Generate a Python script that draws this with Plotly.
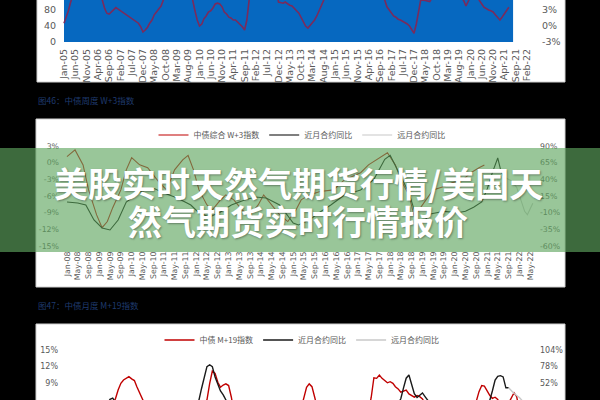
import pandas as pd
import plotly.graph_objects as go

W, H = 600, 400


def px(x):
    return x / W


def py(y):
    return 1 - y / H


# ---------------- data ----------------
# Top chart (weekly index, months counted from Jan-2005)
top_start = "2005-01-01"
top_month_idx = [0, 2, 3, 4, 6, 10, 14, 16, 17, 18, 19, 20, 21, 22, 23, 24, 25, 27, 29, 31, 33, 34, 35, 36,
                 37, 38, 39, 40, 41, 42, 43, 44, 46, 50, 54, 56, 57, 58, 59, 60, 61, 62, 63, 64, 65, 66, 67,
                 68, 69, 70, 71, 72, 73, 74, 75, 76, 77, 78, 79, 80, 81, 82, 84, 90, 94, 95, 96, 97, 98, 99,
                 100, 101, 102, 103, 104, 105, 106, 107, 108, 109, 110, 111, 112, 113, 114, 115, 117, 125,
                 135, 140, 142, 143, 144, 145, 146, 147, 148, 149, 150, 151, 152, 153, 154, 155, 156, 157,
                 158, 160, 162, 164, 168, 175, 177, 178, 179, 181, 183, 184, 185, 186, 187, 188, 189, 190,
                 191, 192, 193, 194, 195, 196, 197]
top_values = [47, 78, 100, 125, 150, 160, 140, 115, 105, 85, 72, 70, 75, 80, 86, 82, 78, 70, 62, 55, 47, 38,
              25, 30, 37, 47, 55, 68, 75, 82, 90, 105, 130, 150, 140, 120, 105, 78, 55, 40, 45, 58, 65, 75,
              78, 85, 95, 97, 95, 88, 75, 70, 62, 60, 55, 55, 50, 45, 38, 30, 55, 105, 140, 160, 130, 100,
              98, 97, 100, 95, 92, 90, 85, 78, 72, 62, 50, 40, 35, 42, 47, 55, 65, 80, 95, 105, 130, 160,
              150, 120, 105, 88, 80, 72, 65, 62, 57, 55, 52, 50, 45, 40, 30, 22, 45, 80, 105, 104, 101,
              120, 150, 115, 104, 90, 104, 125, 112, 105, 95, 87, 83, 80, 78, 75, 68, 60, 55, 62, 70, 80, 87]
top_blue_end = "2021-07-28"
top_left_ticks = [0, 40, 80, 120]
top_right_ticks = [-3, 0, 3]

# Panel 2 (W+3), months counted from Jan-2008
p2_start = "2008-01-01"
p2_red_idx = [0, 3, 6, 8, 11, 13, 15, 17, 20, 22, 24, 27, 30, 32, 34, 37, 40, 43, 45, 47, 49, 52, 54, 57,
              59, 62, 65, 68, 71, 73, 76, 79, 82, 85, 87, 90, 94, 99, 103, 109, 112, 116, 119, 122, 124,
              127, 129, 132, 136, 140, 143, 147, 150, 153, 155]
p2_red_vals = [1.1, 2.3, -0.4, -4.9, -9.4, -11.7, -10.6, -8.1, -4.9, -1.3, 0.9, -0.4, -0.9, -2.2, -3.4,
               -4.9, -1.3, 0.5, 1.3, -1.3, -4.9, -7.6, -8.5, -6.7, -5.8, -6.7, -8.5, -9.4, -7.6, -5.8,
               -7.6, -9.4, -10.6, -8.5, -6.7, -5.8, -5.2, -4.9, -3.1, -1.8, -0.4, 0.9, 1.8, -0.4, -3.1,
               -5.8, -9.7, -7.6, -4.9, -4.3, -3.6, -3.1, -1.8, -0.9, -0.4]
p2_near_idx = [0, 4, 7, 10, 13, 16, 19, 22, 27, 32, 36, 41, 46, 49, 53, 57, 61, 66, 70, 74, 79, 84, 86, 90,
               94, 98, 103, 109, 114, 118, 120, 122, 125, 127, 130, 132, 135, 140, 145, 148, 151, 154, 156,
               158, 160, 161, 162, 163]
p2_near_vals = [6, 4.5, 1.5, -21, -33, -36, -21, 6, 21, 27, 19.5, 12, 1.5, -10.5, -16.5, -9, 1.5, 9, 13.5,
                12, 1.5, -25.5, -28.5, -21, -9, 1.5, 16.5, 24, 40, 70, 76, 60, 35, 20, -20, -25, -12, -8,
                -10, -8, -2, 6, 25, 50, 72, 55, 45, 42]
p2_far_idx = [163, 165, 167, 169, 170, 171, 172, 173]
p2_far_vals = [42, 38, 28, 5, -8, -13, -5, 4]
p2_left_ticks = [-15, -12, -9, -6, -3, 0, 3]
p2_right_ticks = [-60, -35, -10, 15, 40, 65, 90]

# Panel 3 (M+19), months counted from Jan-2008
p3_red_idx = [0, 6, 12, 15, 17, 18, 19, 20, 21, 22, 23, 24, 25, 26, 27, 28, 29, 31, 38, 45, 50, 51, 52, 53,
              54, 55, 56, 57, 58, 59, 60, 61, 62, 70, 80, 86, 87, 88, 89, 90, 91, 92, 93, 100, 108, 112,
              113, 114, 115, 116, 117, 118, 119, 120, 121, 122, 123, 124, 125, 126, 127, 128, 129, 130,
              131, 132, 133, 134, 140, 146, 150, 152, 153, 154, 155, 156, 157, 158, 159, 160, 161, 163,
              165, 166, 167, 168]
p3_red_vals = [4, 3, 2.5, 3, 5, 6.2, 7.8, 9.0, 9.6, 9.9, 10.2, 9.8, 9.5, 8.4, 7.4, 6.2, 5.0, 3, 2, 3, 3.5,
               4.5, 6.0, 9.0, 11.2, 10.8, 9.2, 8.3, 8.7, 8.9, 8.6, 6.5, 4, 2, 3, 3.5, 4.5, 6.5, 8.3, 8.9,
               8.4, 6.5, 4.5, 2.5, 3.5, 4, 6.5, 10.0, 9.9, 10.5, 9.9, 9.4, 9.1, 9.3, 9.0, 8.4, 8.0, 7.4,
               7.6, 7.8, 7.1, 6.8, 6.5, 6.8, 6.6, 6.2, 5.5, 4.5, 3, 2.5, 4, 5.8, 7.5, 8.6, 8.5, 7.6, 6.8,
               6.3, 6.5, 6.1, 5.0, 4.5, 6.4, 7.3, 6.6, 4]
p3_near_idx = [0, 10, 14, 15, 16, 17, 18, 20, 30, 40, 47, 49, 50, 51, 52, 53, 54, 55, 56, 57, 58, 59, 60,
               70, 80, 90, 100, 110, 120, 123, 124, 125, 126, 127, 128, 129, 130, 131, 132, 133, 134, 135,
               145, 150, 156, 157, 158, 159, 160, 161, 162, 163, 164]
p3_near_vals = [10, 12, 15, 20, 27, 29, 22, 10, 0, 5, 15, 26, 44, 62, 78, 81, 78, 62, 50, 40, 34, 26, 18,
                5, 10, 0, 8, 12, 15, 20, 28, 45, 60, 65, 50, 36, 30, 34, 37, 31, 26, 20, 10, 12, 20, 26,
                40, 57, 63, 64, 62, 45, 45]
p3_far_idx = [164, 165, 166, 167, 168, 169]
p3_far_vals = [45, 40, 36, 33, 30, 25]
p3_left_ticks = [6, 9, 12, 15]
p3_right_ticks = [26, 52, 78, 104]

legend2_names = ["中债综合 W+3指数", "近月合约同比", "远月合约同比"]
legend3_names = ["中债 M+19指数", "近月合约同比", "远月合约同比"]
title2 = "图46：中债周度 W+3指数"
title3 = "图47：中债月度 M+19指数"
banner_lines = ["美股实时天然气期货行情/美国天", "然气期货实时行情报价"]


def to_dates(start, idx):
    base = pd.Timestamp(start)
    return [base + pd.DateOffset(months=int(m)) for m in idx]


def pct(vals):
    return [f"{v}%" for v in vals]


TICK_FONT = "DejaVu Sans"
CJK = "Noto Sans CJK SC"
GREY = "#595959"

fig = go.Figure()

# top chart line
fig.add_trace(go.Scatter(x=to_dates(top_start, top_month_idx), y=top_values, mode="lines",
                         line=dict(color="#7a2b5c", width=1.6), xaxis="x", yaxis="y",
                         showlegend=False, hoverinfo="skip"))
# empty trace to register the right axis of the top chart
fig.add_trace(go.Scatter(x=[pd.Timestamp(top_start)], y=[None], mode="lines", xaxis="x", yaxis="y2",
                         showlegend=False, hoverinfo="skip"))

# panel 2
fig.add_trace(go.Scatter(x=to_dates(p2_start, p2_red_idx), y=p2_red_vals, mode="lines",
                         name=legend2_names[0], line=dict(color="#c00000", width=1.1),
                         xaxis="x2", yaxis="y3", legend="legend"))
fig.add_trace(go.Scatter(x=to_dates(p2_start, p2_near_idx), y=p2_near_vals, mode="lines",
                         name=legend2_names[1], line=dict(color="#000000", width=1.1),
                         xaxis="x2", yaxis="y4", legend="legend"))
fig.add_trace(go.Scatter(x=to_dates(p2_start, p2_far_idx), y=p2_far_vals, mode="lines",
                         name=legend2_names[2], line=dict(color="#c8c8c8", width=1.1),
                         xaxis="x2", yaxis="y4", legend="legend"))

# panel 3
fig.add_trace(go.Scatter(x=to_dates(p2_start, p3_red_idx), y=p3_red_vals, mode="lines",
                         name=legend3_names[0], line=dict(color="#c00000", width=1.4),
                         xaxis="x3", yaxis="y5", legend="legend2"))
fig.add_trace(go.Scatter(x=to_dates(p2_start, p3_near_idx), y=p3_near_vals, mode="lines",
                         name=legend3_names[1], line=dict(color="#1a1a1a", width=1.4),
                         xaxis="x3", yaxis="y6", legend="legend2"))
fig.add_trace(go.Scatter(x=to_dates(p2_start, p3_far_idx), y=p3_far_vals, mode="lines",
                         name=legend3_names[2], line=dict(color="#c8c8c8", width=1.4),
                         xaxis="x3", yaxis="y6", legend="legend2"))

common_axis = dict(showgrid=False, zeroline=False, showline=False, ticks="", automargin=False)

fig.update_layout(
    width=W, height=H, template="none",
    margin=dict(l=0, r=0, t=0, b=0),
    paper_bgcolor="#000000", plot_bgcolor="rgba(0,0,0,0)",
    hovermode=False,
    xaxis=dict(common_axis, domain=[px(62), px(532)], anchor="y", type="date",
               range=["2004-12-05", "2022-04-09"], tick0="2005-01-01", dtick="M5",
               tickformat="%b-%y", tickangle=-90, ticklabelstandoff=4,
               tickfont=dict(family=TICK_FONT, size=9.5, color=GREY)),
    yaxis=dict(common_axis, domain=[py(42), 1], anchor="x", range=[0, 105],
               tickmode="array", tickvals=top_left_ticks, ticktext=[str(v) for v in top_left_ticks],
               ticklabelstandoff=5, tickfont=dict(family=TICK_FONT, size=9.5, color=GREY)),
    yaxis2=dict(common_axis, overlaying="y", side="right", anchor="x", range=[-3, 4.875],
                tickmode="array", tickvals=top_right_ticks, ticktext=pct(top_right_ticks),
                ticklabelstandoff=9, tickfont=dict(family=TICK_FONT, size=9.5, color=GREY)),
    xaxis2=dict(common_axis, domain=[px(63), px(535)], anchor="y3", type="date",
                range=["2007-11-17", "2022-06-26"], tick0="2008-01-01", dtick="M4",
                tickformat="%b-%y", tickangle=-90, ticklabelstandoff=3,
                tickfont=dict(family=TICK_FONT, size=7.8, color=GREY)),
    yaxis3=dict(common_axis, domain=[py(246), py(146)], anchor="x2", range=[-15, 3],
                tickmode="array", tickvals=p2_left_ticks, ticktext=pct(p2_left_ticks),
                ticklabelstandoff=3, tickfont=dict(family=TICK_FONT, size=7.8, color=GREY)),
    yaxis4=dict(common_axis, overlaying="y3", side="right", anchor="x2", range=[-60, 90],
                tickmode="array", tickvals=p2_right_ticks, ticktext=pct(p2_right_ticks),
                ticklabelstandoff=4, tickfont=dict(family=TICK_FONT, size=7.8, color=GREY)),
    xaxis3=dict(common_axis, domain=[px(63), px(535)], anchor="y5", type="date",
                range=["2007-11-17", "2022-06-26"], showticklabels=False),
    yaxis5=dict(common_axis, domain=[0, py(350)], anchor="x3", range=[6, 15],
                tickmode="array", tickvals=p3_left_ticks, ticktext=pct(p3_left_ticks),
                ticklabelstandoff=4, tickfont=dict(family=TICK_FONT, size=8, color=GREY)),
    yaxis6=dict(common_axis, overlaying="y5", side="right", anchor="x3", range=[26, 104],
                tickmode="array", tickvals=p3_right_ticks, ticktext=pct(p3_right_ticks),
                ticklabelstandoff=4, tickfont=dict(family=TICK_FONT, size=8, color=GREY)),
    legend=dict(orientation="h", x=px(302), y=py(135), xanchor="center", yanchor="middle",
                bgcolor="rgba(0,0,0,0)", font=dict(family=CJK, size=8, color=GREY),
                itemwidth=30, itemclick=False),
    legend2=dict(orientation="h", x=px(302), y=py(340), xanchor="center", yanchor="middle",
                 bgcolor="rgba(0,0,0,0)", font=dict(family=CJK, size=8, color=GREY),
                 itemwidth=30, itemclick=False),
)

shapes = [
    # white panels
    dict(type="rect", xref="paper", yref="paper", x0=px(37), x1=px(565), y0=py(82), y1=1.05,
         fillcolor="#ffffff", line=dict(color="#d0d0d0", width=1), layer="below"),
    dict(type="rect", xref="paper", yref="paper", x0=px(36), x1=px(565), y0=py(287), y1=py(119),
         fillcolor="#ffffff", line=dict(color="#d0d0d0", width=1), layer="below"),
    dict(type="rect", xref="paper", yref="paper", x0=px(36), x1=px(565), y0=-0.05, y1=py(324),
         fillcolor="#ffffff", line=dict(color="#d0d0d0", width=1), layer="below"),
    # blue area of the top chart
    dict(type="rect", xref="x", yref="y domain", x0=top_start, x1=top_blue_end, y0=0, y1=1,
         fillcolor="#0668c0", line=dict(width=0), layer="below"),
    # green banner
    dict(type="rect", xref="paper", yref="paper", x0=0, x1=1, y0=py(252), y1=py(148),
         fillcolor="rgba(95,166,95,0.64)", line=dict(width=0), layer="above"),
]
fig.update_layout(shapes=shapes)

annotations = [
    dict(text=title2, x=px(36), y=py(100), xref="paper", yref="paper", xanchor="left",
         yanchor="middle", showarrow=False, font=dict(family=CJK, size=8.5, color="#1f3a6e")),
    dict(text=title3, x=px(36), y=py(305), xref="paper", yref="paper", xanchor="left",
         yanchor="middle", showarrow=False, font=dict(family=CJK, size=8.5, color="#1f3a6e")),
    dict(text="<b>" + banner_lines[0] + "</b>", x=px(298), y=py(182), xref="paper", yref="paper",
         xanchor="center", yanchor="middle", showarrow=False,
         font=dict(family=CJK, size=34, color="#ffffff", shadow="1px 1px 2px rgba(0,0,0,0.35)")),
    dict(text="<b>" + banner_lines[1] + "</b>", x=px(298), y=py(220), xref="paper", yref="paper",
         xanchor="center", yanchor="middle", showarrow=False,
         font=dict(family=CJK, size=34, color="#ffffff", shadow="1px 1px 2px rgba(0,0,0,0.35)")),
]
fig.update_layout(annotations=annotations)

# the page's default 8px body margin would shift the 600x400 figure; remove it
fig.write_html("out.html",
               config={"displayModeBar": False, "staticPlot": True},
               post_script="document.body.style.margin='0';document.body.style.background='#000';")
